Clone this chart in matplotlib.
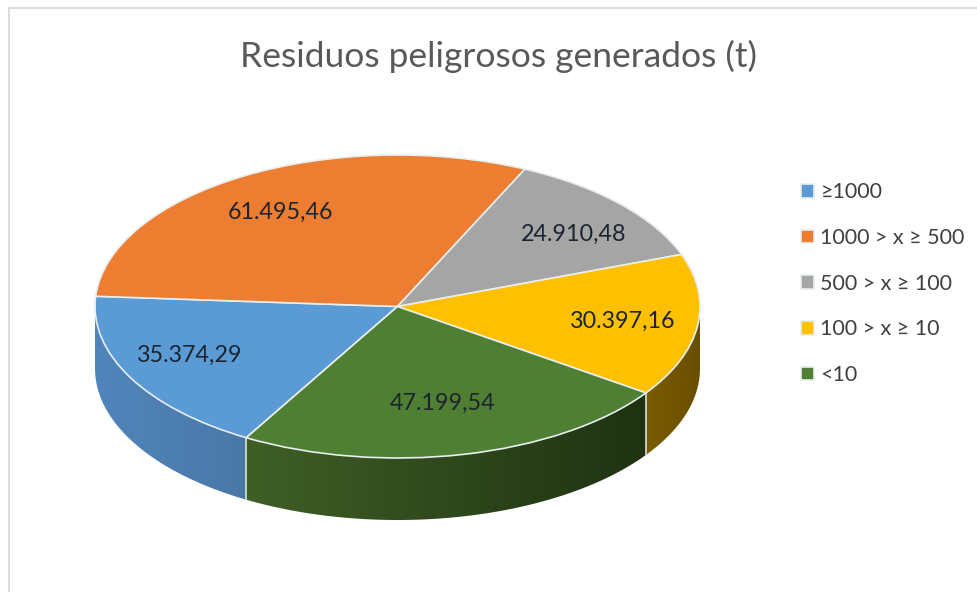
import numpy as np
import matplotlib
matplotlib.use('Agg')
import matplotlib.pyplot as plt
from matplotlib.colors import to_rgb
from matplotlib.patches import Polygon, Rectangle

plt.rcParams['font.family'] = ['Lato', 'DejaVu Sans']

title = 'Residuos peligrosos generados (t)'
categories = ['≥1000', '1000 > x ≥ 500', '500 > x ≥ 100', '100 > x ≥ 10', '<10']
values = [35374.29, 61495.46, 24910.48, 30397.16, 47199.54]
value_labels = ['35.374,29', '61.495,46', '24.910,48', '30.397,16', '47.199,54']
colors = ['#5b9bd5', '#ed7d31', '#a5a5a5', '#ffc000', '#4f7f32']

# side wall colours, left end and right end of each slice
side_left = ['#5085bb', '#ed7d31', '#a5a5a5', '#7a5c00', '#3f5f26']
side_right = ['#4a78a8', '#ed7d31', '#a5a5a5', '#6a4e00', '#1f3212']

W, H = 977, 592
cx, cy, rx, ry = 397.5, 306.5, 302.5, 151.5
depth = 62 / ry
start = 240
label_r = [0.757, 0.739, 0.757, 0.75, 0.648]
label_shift = [-3.5, 1, -2.7, 0.7, 0.6]
label_drop = 1.5 / ry

fig = plt.figure(figsize=(W / 100, H / 100), dpi=100)
ax = fig.add_axes([0, 0, 1, 1])

# frame of the original chart, only top and left are visible
fig.add_artist(Rectangle((8 / W, 0), 2 / W, 1 - 8 / H, color='#dcdcdc', lw=0))
fig.add_artist(Rectangle((8 / W, 1 - 9 / H), 1, 2 / H, color='#dcdcdc', lw=0))

wedges, texts = ax.pie(values, colors=colors, startangle=start, counterclock=False,
                       labels=value_labels, labeldistance=0.75,
                       wedgeprops={'edgecolor': '#e8eef0', 'linewidth': 1.2},
                       textprops={'fontsize': 16.8, 'color': '#1c2430'})
ax.set_aspect('auto')

# side walls of the front half
edges = start - np.cumsum([0] + values) / sum(values) * 360
for i in range(len(values)):
    for base in (-180, 180):
        lo = max(edges[i + 1], base)
        hi = min(edges[i], base + 180)
        if hi <= lo:
            continue
        t = np.radians(np.linspace(lo, hi, 80))
        x = np.cos(t)
        y = np.sin(t)
        pts = np.r_[np.c_[x, y], np.c_[x[::-1], y[::-1] - depth]]
        poly = Polygon(pts, closed=True, facecolor='none', edgecolor='none')
        ax.add_patch(poly)
        grad = np.linspace(to_rgb(side_left[i]), to_rgb(side_right[i]), 128)[None, :, :]
        im = ax.imshow(grad, extent=(x.min(), x.max(), y.min() - depth, y.max()),
                       aspect='auto', zorder=0.5, interpolation='bilinear')
        im.set_clip_path(poly)
        # divider where this wall meets the next one
        if hi < base + 180:
            ax.plot([x[-1], x[-1]], [y[-1], y[-1] - depth], color='#d8e0d8', lw=1.2, zorder=0.6)

for w in wedges:
    w.set_zorder(2)
for t, r, s, a in zip(texts, label_r, label_shift, (edges[:-1] + edges[1:]) / 2):
    t.set_position((r * np.cos(np.radians(a + s)), r * np.sin(np.radians(a + s)) - label_drop))
    t.set_ha('center')
    t.set_va('center')
    t.set_zorder(3)

ax.set_xlim((0 - cx) / rx, (W - cx) / rx)
ax.set_ylim((cy - H) / ry, cy / ry)
ax.axis('off')

fig.text(498 / W, 1 - 56 / H, title, ha='center', va='center', fontsize=25.5, color='#595959')

fig.legend(wedges, categories, loc='upper left', bbox_to_anchor=(801 / W, 1 - 182.5 / H),
           frameon=False, fontsize=15.5, labelcolor='#404040', handlelength=0.6, handleheight=0.6,
           handletextpad=0.3, labelspacing=1.19, borderpad=0, borderaxespad=0)

fig.savefig('out.png', dpi=100)
